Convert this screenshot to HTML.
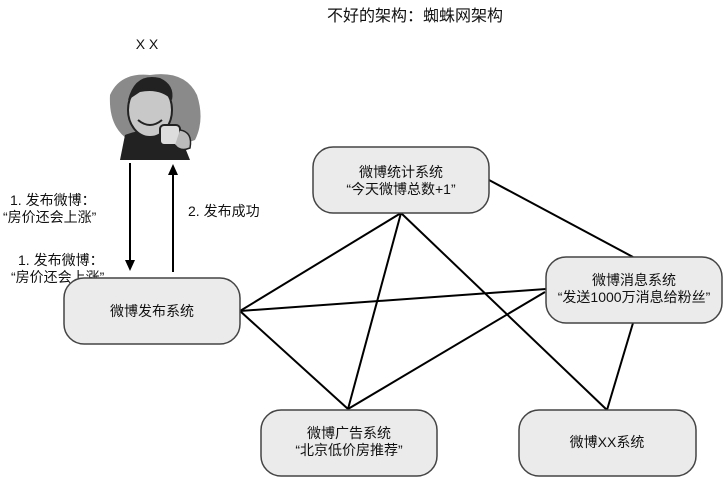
<!DOCTYPE html>
<html><head><meta charset="utf-8"><style>
html,body{margin:0;padding:0;background:#fff;}
body{width:726px;height:479px;overflow:hidden;}
text{font-family:"Liberation Sans","Noto Sans CJK SC",sans-serif;fill:#111;}
</style></head><body>
<svg width="726" height="479" viewBox="0 0 726 479" xmlns="http://www.w3.org/2000/svg">
<text x="415" y="21" font-size="16" text-anchor="middle">不好的架构：蜘蛛网架构</text>
<text x="147" y="49" font-size="14" text-anchor="middle">X X</text>
<!-- person -->
<path d="M110,95 Q120,72 150,75 Q185,70 197,95 Q205,120 195,140 Q170,150 140,145 Q108,135 110,95 Z" fill="#8a8a8a"/>
<path d="M120,160 L125,135 Q150,125 180,135 L190,160 Z" fill="#222"/>
<ellipse cx="150" cy="110" rx="22" ry="27" fill="#c8c8c8" stroke="#222" stroke-width="2"/>
<path d="M128,100 Q135,72 160,78 Q175,85 172,100 Q160,88 140,92 Z" fill="#222"/>
<path d="M138,120 Q150,130 162,120" stroke="#222" stroke-width="2" fill="none"/>
<rect x="160" y="125" width="20" height="20" rx="4" fill="#ddd" stroke="#222" stroke-width="2"/>
<path d="M180,130 Q193,132 190,148 Q180,152 175,145" fill="#bbb" stroke="#222" stroke-width="1.5"/>
<!-- arrows -->
<line x1="130" y1="163" x2="130" y2="262" stroke="#000" stroke-width="2"/>
<path d="M125,260 L135,260 L130,271 Z" fill="#000"/>
<line x1="173" y1="272" x2="173" y2="172" stroke="#000" stroke-width="2"/>
<path d="M168,175 L178,175 L173,164 Z" fill="#000"/>
<g font-size="14">
<text x="10" y="205">1. 发布微博：</text>
<text x="3" y="222">“房价还会上涨”</text>
<text x="18" y="265">1. 发布微博：</text>
<text x="11" y="282">“房价还会上涨”</text>
<text x="188" y="216">2. 发布成功</text>
</g>
<!-- lines -->
<g stroke="#000" stroke-width="2" fill="none">
<line x1="240" y1="311" x2="401" y2="213"/>
<line x1="240" y1="311" x2="546" y2="289"/>
<line x1="240" y1="311" x2="348" y2="409"/>
<line x1="401" y1="213" x2="348" y2="409"/>
<line x1="401" y1="213" x2="607" y2="410"/>
<line x1="489" y1="180" x2="633" y2="257"/>
<line x1="545" y1="292" x2="348" y2="409"/>
<line x1="633" y1="323" x2="607" y2="410"/>
</g>
<!-- boxes -->
<g fill="#ebebeb" stroke="#444" stroke-width="1.5">
<rect x="64" y="278" width="176" height="66" rx="20"/>
<rect x="313" y="147" width="176" height="66" rx="20"/>
<rect x="546" y="257" width="176" height="66" rx="20"/>
<rect x="261" y="410" width="176" height="66" rx="20"/>
<rect x="519" y="410" width="177" height="66" rx="20"/>
</g>
<g font-size="14" text-anchor="middle">
<text x="152" y="316">微博发布系统</text>
<text x="401" y="177">微博统计系统</text>
<text x="401" y="194">“今天微博总数+1”</text>
<text x="634" y="285">微博消息系统</text>
<text x="634" y="302">“发送1000万消息给粉丝”</text>
<text x="349" y="438">微博广告系统</text>
<text x="349" y="455">“北京低价房推荐”</text>
<text x="607" y="447">微博XX系统</text>
</g>
</svg>
</body></html>
